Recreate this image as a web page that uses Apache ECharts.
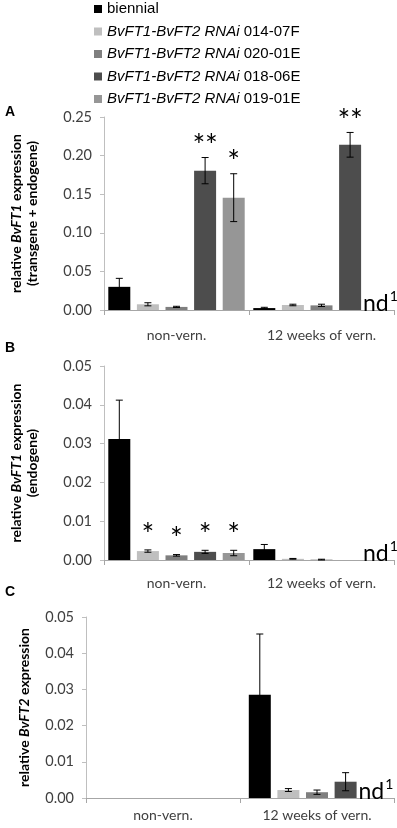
<!DOCTYPE html>
<html><head><meta charset="utf-8">
<script src="https://cdn.jsdelivr.net/npm/echarts@6/dist/echarts.min.js"></script>
<style>html,body{margin:0;padding:0;background:#fff}#c{width:397px;height:828px}</style>
</head><body><div id="c"></div>
<script>
// ---------- data ----------
const categories = ['non-vern.', '12 weeks of vern.'];
const seriesNames = ['biennial', 'BvFT1-BvFT2 RNAi 014-07F', 'BvFT1-BvFT2 RNAi 020-01E', 'BvFT1-BvFT2 RNAi 018-06E', 'BvFT1-BvFT2 RNAi 019-01E'];
const seriesColors = ['#000000', '#bfbfbf', '#7f7f7f', '#4d4d4d', '#969696'];

// Panel A: relative BvFT1 expression (transgene + endogene)  [non-vern., 12 weeks]
const aValues = [[0.030, 0.0025], [0.0074, 0.0065], [0.004, 0.006], [0.1805, 0.214], [0.1455, null]];
const aErrors = [[0.011, 0.001], [0.002, 0.001], [0.0008, 0.0015], [0.017, 0.016], [0.031, null]];
const aSig = [['', ''], ['', ''], ['', ''], ['**', '**'], ['*', '']];
const aND = [[0, 0], [0, 0], [0, 0], [0, 0], [0, 1]];
const aTicks = { min: 0, max: 0.25, interval: 0.05 };

// Panel B: relative BvFT1 expression (endogene)
const bValues = [[0.0312, 0.0028], [0.0023, 0.0003], [0.0012, 0.0001], [0.0021, 0], [0.0018, null]];
const bErrors = [[0.0100, 0.0012], [0.0003, 0.0001], [0.0002, 0.0001], [0.0004, 0], [0.0007, null]];
const bSig = [['', ''], ['*', ''], ['*', ''], ['*', ''], ['*', '']];
const bND = [[0, 0], [0, 0], [0, 0], [0, 0], [0, 1]];
const bTicks = { min: 0, max: 0.05, interval: 0.01 };

// Panel C: relative BvFT2 expression
const cValues = [[0, 0.0285], [0, 0.0022], [0, 0.0016], [0, 0.0045], [0, null]];
const cErrors = [[null, 0.0168], [null, 0.0004], [null, 0.0006], [null, 0.0025], [null, null]];
const cSig = [['', ''], ['', ''], ['', ''], ['', ''], ['', '']];
const cND = [[0, 0], [0, 0], [0, 0], [0, 0], [0, 1]];
const cTicks = { min: 0, max: 0.05, interval: 0.01 };

const panelLetters = ['A', 'B', 'C'];
// ---------- layout/style ----------
const FONT = 'Lato';
const BAR_W = 22, BAR_GAP = 0.3;
const SPACING = BAR_W * (1 + BAR_GAP);
const grids = [
  { left: 86, right: 3, top: 117, height: 193 },
  { left: 86, right: 3, top: 366, height: 194 },
  { left: 86, right: 3, top: 617, height: 181 }
];
const labelMargins = [18, 16, 10];
const starOffsets = [18, 22, 18];
const yNames = [
  '{b|relative }{bi|BvFT1}{b| expression}\n{b|(transgene + endogene)}',
  '{b|relative }{bi|BvFT1}{b| expression}\n{b|(endogene)}',
  '{b|relative }{bi|BvFT2}{b| expression}'
];
const nameGaps = [64, 64, 54];

const panels = [
  [aValues, aErrors, aSig, aND, aTicks],
  [bValues, bErrors, bSig, bND, bTicks],
  [cValues, cErrors, cSig, cND, cTicks]
];

const xAxes = [], yAxes = [], series = [];
panels.forEach((p, pi) => {
  const [vals, errs, sig, nd, ticks] = p;
  xAxes.push({
    type: 'category', gridIndex: pi, data: categories,
    axisLine: { show: true, lineStyle: { color: '#a6a6a6', width: 1 } },
    axisTick: { show: true, length: 5, lineStyle: { color: '#a6a6a6' } },
    axisLabel: { color: '#404040', fontFamily: FONT, fontSize: 14, margin: labelMargins[pi] },
    splitLine: { show: false }
  });
  yAxes.push({
    type: 'value', gridIndex: pi, min: ticks.min, max: ticks.max, interval: ticks.interval,
    axisLine: { show: true, lineStyle: { color: '#bfbfbf', width: 1 } },
    axisTick: { show: true, length: 4, inside: false, lineStyle: { color: '#bfbfbf' } },
    axisLabel: { color: '#404040', fontFamily: FONT, fontSize: 14.5, margin: 12, formatter: v => v.toFixed(2) },
    splitLine: { show: false },
    name: yNames[pi], nameLocation: 'middle', nameGap: nameGaps[pi], nameRotate: 90,
    nameTextStyle: {
      fontFamily: FONT, fontSize: 14, fontWeight: 'bold', color: '#000', lineHeight: 16,
      rich: {
        b: { fontFamily: FONT, fontSize: 14, fontWeight: 'bold', color: '#000', lineHeight: 16 },
        bi: { fontFamily: FONT, fontSize: 14, fontWeight: 'bold', fontStyle: 'italic', color: '#000', lineHeight: 16 }
      }
    }
  });
  vals.forEach((row, s) => {
    series.push({
      type: 'bar', name: seriesNames[s], xAxisIndex: pi, yAxisIndex: pi,
      data: row, barWidth: BAR_W, barGap: (BAR_GAP * 100) + '%',
      itemStyle: { color: seriesColors[s] }, silent: true, animation: false
    });
  });
  const data = [], meta = [];
  vals.forEach((row, s) => row.forEach((v, c) => {
    const e = errs[s][c];
    data.push([c, v == null ? 0 : v, e == null ? 0 : e, s]);
    meta.push({ sig: sig[s][c], nd: nd[s][c] });
  }));
  series.push({
    type: 'custom', xAxisIndex: pi, yAxisIndex: pi, z: 10, silent: true, animation: false,
    encode: { x: 0, y: 1 }, data: data,
    renderItem: function (params, api) {
      const c = api.value(0), v = api.value(1), e = api.value(2), s = api.value(3);
      const m = meta[params.dataIndex];
      const base = api.coord([c, 0]);
      const cx = base[0] + (s - 2) * SPACING;
      const children = [];
      let topY = api.coord([c, v])[1];
      if (e > 0) {
        const t = api.coord([c, v + e])[1], b = api.coord([c, v - e])[1];
        topY = t;
        const st = { stroke: '#000', lineWidth: 1 };
        children.push({ type: 'line', shape: { x1: cx, y1: t, x2: cx, y2: b }, style: st });
        children.push({ type: 'line', shape: { x1: cx - 3.5, y1: t, x2: cx + 3.5, y2: t }, style: st });
        children.push({ type: 'line', shape: { x1: cx - 3.5, y1: b, x2: cx + 3.5, y2: b }, style: st });
      }
      if (m.sig) {
        const n = m.sig.length;
        for (let k = 0; k < n; k++) {
          children.push({
            type: 'text',
            style: {
              text: '*', x: cx + (k - (n - 1) / 2) * 12.5, y: topY - starOffsets[pi] + 7,
              align: 'center', verticalAlign: 'middle', fill: '#000',
              font: '30px ' + FONT
            }
          });
        }
      }
      if (m.nd) {
        const by = base[1];
        children.push({ type: 'text', style: { text: 'nd', x: cx + 10, y: by + 5, align: 'right', verticalAlign: 'bottom', fill: '#000', font: '23px ' + FONT } });
        children.push({ type: 'text', style: { text: '1', x: cx + 11, y: by - 21, align: 'left', verticalAlign: 'top', fill: '#000', font: '14px ' + FONT } });
      }
      return { type: 'group', children: children };
    }
  });
});

const titles = [
  { text: panelLetters[0], left: 5, top: 105 },
  { text: panelLetters[1], left: 5, top: 341 },
  { text: panelLetters[2], left: 5, top: 585 }
].map(t => Object.assign(t, { padding: 0, textStyle: { fontFamily: 'Liberation Sans', fontSize: 14, fontWeight: 'bold', color: '#000' } }));

const chart = echarts.init(document.getElementById('c'), null, { renderer: 'canvas' });
chart.setOption({
  animation: false,
  backgroundColor: '#fff',
  title: titles,
  legend: {
    data: seriesNames, orient: 'vertical', left: 94, top: 0, padding: 0,
    icon: 'rect', itemWidth: 8, itemHeight: 8, itemGap: 4.5, selectedMode: false,
    formatter: function (name) {
      if (name === 'biennial') return '{n|biennial}';
      const code = name.split(' ').pop();
      return '{i|BvFT1-BvFT2 RNAi} {n|' + code + '}';
    },
    textStyle: {
      fontFamily: 'Liberation Sans', fontSize: 15, color: '#000', lineHeight: 18,
      rich: {
        n: { fontFamily: 'Liberation Sans', fontSize: 15, color: '#000', lineHeight: 18 },
        i: { fontFamily: 'Liberation Sans', fontSize: 15, fontStyle: 'italic', color: '#000', lineHeight: 18 }
      }
    }
  },
  grid: grids,
  xAxis: xAxes,
  yAxis: yAxes,
  series: series
});
</script>
</body></html>
